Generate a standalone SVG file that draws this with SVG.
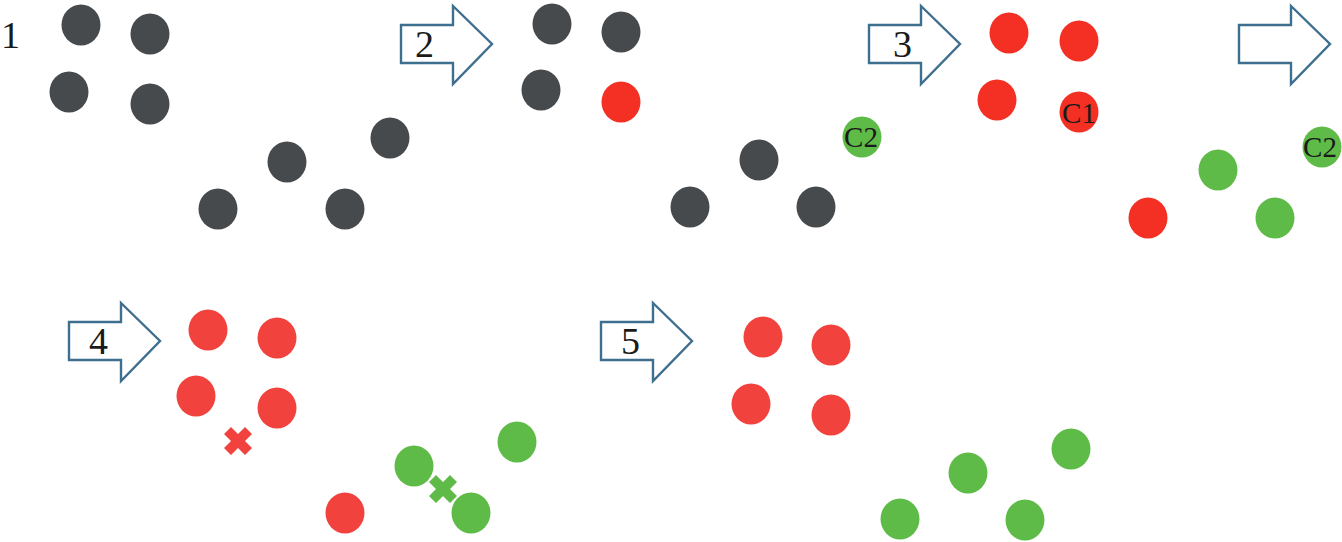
<svg xmlns="http://www.w3.org/2000/svg" width="1342" height="542" viewBox="0 0 1342 542">
<style>
.k{fill:#464a4d}.r{fill:#f42f23}.l{fill:#f1423d}.g{fill:#5fbb47}
ellipse{rx:19.5px;ry:20.5px}
.a{fill:#fff;stroke:#3f6f8f;stroke-width:2.4}
text{font-family:"Liberation Serif",serif;fill:#1a1a1a}
.n{font-size:38px}.c{font-size:29px;text-anchor:middle}
</style>
<defs><path id="arrow" class="a" d="M0 14H52V-5L91 33L52 73V52H0Z"/>
<path id="x" d="M-14-7L-7-14L0-7L7-14L14-7L7 0L14 7L7 14L0 7L-7 14L-14 7L-7 0Z"/></defs>
<rect width="1342" height="542" fill="#fff"/>
<g id="connectors">
<use href="#arrow" x="401" y="11"/><use href="#arrow" x="869" y="11"/><use href="#arrow" x="1239" y="11"/>
<use href="#arrow" x="69" y="308"/><use href="#arrow" x="601" y="308"/>
</g>
<g id="labels">
<text class="n" x="1" y="48">1</text><text class="n" x="415" y="57">2</text><text class="n" x="893" y="57">3</text><text class="n" x="89" y="354">4</text><text class="n" x="621" y="354">5</text>
</g>
<g id="step1" class="k"><ellipse cx="81" cy="25"/><ellipse cx="150" cy="34"/><ellipse cx="69" cy="92"/><ellipse cx="150" cy="104"/><ellipse cx="390" cy="138"/><ellipse cx="287" cy="162"/><ellipse cx="218" cy="209"/><ellipse cx="345" cy="209"/></g>
<g id="step2"><g class="k"><ellipse cx="552" cy="24"/><ellipse cx="621" cy="32"/><ellipse cx="541" cy="90"/><ellipse cx="759" cy="160"/><ellipse cx="690" cy="207"/><ellipse cx="816" cy="207"/></g><ellipse class="r" cx="621" cy="102"/><ellipse class="g" cx="862" cy="137"/><text class="c" x="861" y="147">C2</text></g>
<g id="step3"><g class="r"><ellipse cx="1009" cy="33"/><ellipse cx="1079" cy="41"/><ellipse cx="997" cy="100"/><ellipse cx="1079" cy="112"/><ellipse cx="1148" cy="218"/></g><g class="g"><ellipse cx="1218" cy="170"/><ellipse cx="1275" cy="218"/><ellipse cx="1322" cy="147"/></g><text class="c" x="1079" y="123">C1</text><text class="c" x="1320" y="157">C2</text></g>
<g id="step4"><g class="l"><ellipse cx="208" cy="330"/><ellipse cx="277" cy="338"/><ellipse cx="196" cy="396"/><ellipse cx="277" cy="408"/><ellipse cx="345" cy="513"/><use href="#x" x="238" y="441"/></g><g class="g"><ellipse cx="414" cy="466"/><ellipse cx="517" cy="442"/><ellipse cx="471" cy="513"/><use href="#x" x="443" y="489"/></g></g>
<g id="step5"><g class="l"><ellipse cx="763" cy="337"/><ellipse cx="831" cy="345"/><ellipse cx="751" cy="404"/><ellipse cx="831" cy="415"/></g><g class="g"><ellipse cx="1071" cy="449"/><ellipse cx="968" cy="473"/><ellipse cx="900" cy="519"/><ellipse cx="1025" cy="520"/></g></g>
</svg>
